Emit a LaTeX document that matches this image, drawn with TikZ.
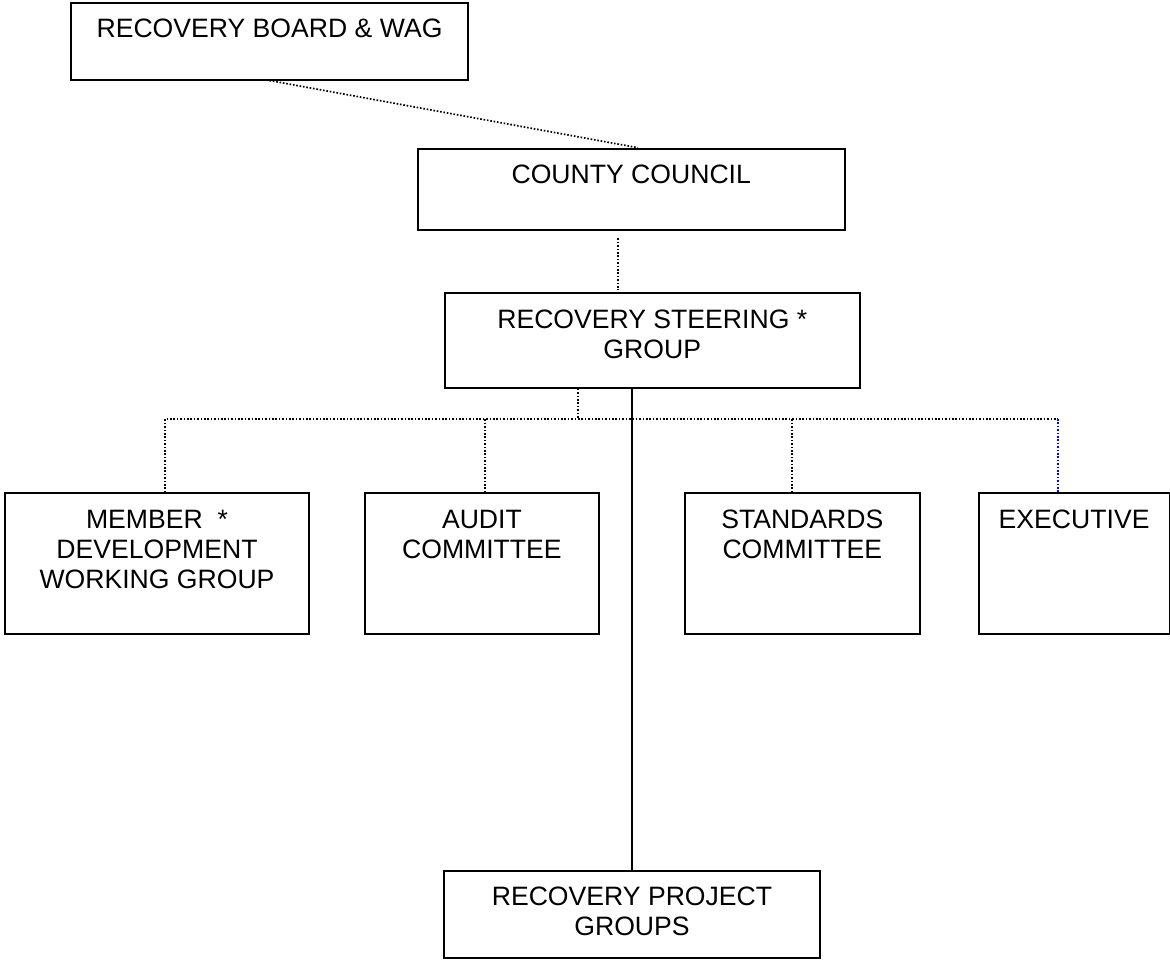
\documentclass[tikz,border=0pt]{standalone}
\usepackage{fontspec}
\setmainfont{Liberation Sans}
\usepackage{tikz}

\begin{document}
\begin{tikzpicture}[
    x=0.5pt, y=-0.5pt,
    every node/.style={font=\fontsize{13.3}{15}\selectfont},
    box/.style={draw, line width=1pt, inner sep=0pt, anchor=north west},
    lbl/.style={anchor=north, inner sep=0pt, yshift=-8.5pt, align=center},
    dotline/.style={line width=0.85pt, dash pattern=on 0.8pt off 0.9pt},
    solidline/.style={line width=1pt}
    ]
\useasboundingbox (0,0) rectangle (1170,960);

% Top of the chart
\node[box, minimum width=198.5pt, minimum height=38.25pt,
      label={[lbl]north:RECOVERY BOARD \& WAG}] (board) at (70,2) {};
\node[box, minimum width=213.25pt, minimum height=40.8pt,
      label={[lbl]north:COUNTY COUNCIL}] (county) at (417,147.7) {};
\node[box, minimum width=207.25pt, minimum height=47.2pt,
      label={[lbl]north:RECOVERY STEERING *\\GROUP}] (steering) at (444,292.3) {};

% Committees row
\node[box, minimum width=152pt, minimum height=70.2pt,
      label={[lbl]north:MEMBER\ \ *\\DEVELOPMENT\\WORKING GROUP}] (member) at (4,492.3) {};
\node[box, minimum width=117.4pt, minimum height=70.2pt,
      label={[lbl]north:AUDIT\\COMMITTEE}] (audit) at (363.5,492.3) {};
\node[box, minimum width=117.3pt, minimum height=70.2pt,
      label={[lbl]north:STANDARDS\\COMMITTEE}] (standards) at (684,492.3) {};
\node[box, minimum width=95.5pt, minimum height=70.2pt,
      label={[lbl]north:EXECUTIVE}] (exec) at (977.6,492.3) {};

% Project groups
\node[box, minimum width=188pt, minimum height=43.5pt,
      label={[lbl]north:RECOVERY PROJECT\\GROUPS}] (project) at (443,870) {};

% Links
\coordinate (fork) at (578,419);
\coordinate (exec top) at ([xshift=-8pt]exec.north);
\draw[dotline] (board.south) -- ([xshift=3.3pt]county.north);
\draw[dotline, shorten <=3.5pt, shorten >=1pt] ([xshift=-6.5pt]county.south) -- ([xshift=-6.5pt]county.south |- steering.north);
\draw[dotline] (fork |- steering.south) -- (fork);
\draw[dotline] ([xshift=4pt]member.north) |- (fork) -- (exec top |- fork);
\draw[dotline] ([xshift=1.5pt]audit.north) -- ([xshift=1.5pt]audit.north |- fork);
\draw[dotline] ([xshift=-5pt]standards.north) -- ([xshift=-5pt]standards.north |- fork);
\draw[dotline, blue] (exec top |- fork) -- (exec top);
\draw[solidline] (project.north |- steering.south) -- (project.north);

\end{tikzpicture}
\end{document}
